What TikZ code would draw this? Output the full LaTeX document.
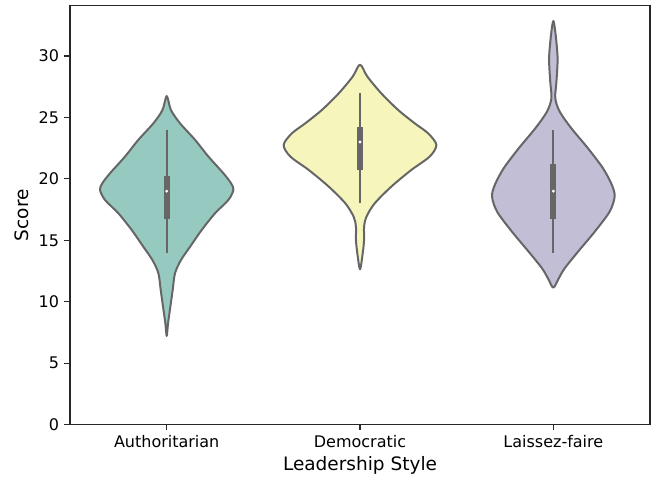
\documentclass[tikz,border=0pt]{standalone}
\usepackage{fontspec}
\setmainfont{DejaVu Sans}
\usepackage{xcolor}
\usepackage{tikz}
\usetikzlibrary{positioning}
\definecolor{setteal}{RGB}{150,202,193}
\definecolor{setyellow}{RGB}{246,246,188}
\definecolor{setlilac}{RGB}{193,190,214}
\definecolor{linegray}{RGB}{102,102,102}
\tikzset{
    violin/.style = {draw=linegray, line width=1pt, line join=round},
    whisk/.style = {linegray, line width=1pt},
    boxq/.style = {linegray, line width=3.1pt},
    frame/.style = {black!85, line width=0.6pt},
    tickl/.style = {black!85, line width=0.6pt},
    ticklab/.style = {font=\fontsize{8}{9.6}\selectfont, inner sep=0pt},
    axlab/.style = {font=\fontsize{9.25}{11}\selectfont, inner sep=0pt},
}

\begin{document}
\begin{tikzpicture}[x=96.667pt, y=6.145pt]
\useasboundingbox (-0.8623,-4.50) rectangle (2.531,34.556);
%
% Authoritarian
\draw[violin, fill=setteal] plot[smooth cycle, tension=0.5] coordinates {
  (0,26.74) (0.022,25.6) (0.069,24.52) (0.147,23.17) (0.216,21.81) (0.293,20.46)
  (0.333,19.64) (0.345,19.1) (0.319,18.28) (0.25,17.2) (0.181,15.84) (0.121,14.48)
  (0.074,13.4) (0.043,12.32) (0.031,10.96) (0.019,9.6) (0.007,8.25)
  (0,7.22)
  (-0.007,8.25) (-0.019,9.6) (-0.031,10.96) (-0.043,12.32) (-0.074,13.4)
  (-0.121,14.48) (-0.181,15.84) (-0.25,17.2) (-0.319,18.28) (-0.345,19.1)
  (-0.333,19.64) (-0.293,20.46) (-0.216,21.81) (-0.147,23.17) (-0.069,24.52)
  (-0.022,25.6)};
\draw[whisk] (0,14) -- (0,24);
\draw[boxq] (0,16.75) -- (0,20.25);
\fill[white] (0,19) circle (0.8pt);
%
% Democratic
\draw[violin, fill=setyellow] plot[smooth cycle, tension=0.5] coordinates {
  (1,29.29) (1.038,28.32) (1.110,26.96) (1.197,25.61) (1.283,24.52) (1.352,23.71)
  (1.395,22.76) (1.36,21.81) (1.265,20.72) (1.162,19.37) (1.076,18.01) (1.033,16.92)
  (1.021,16.11) (1.021,15.03) (1.014,13.95)
  (1,12.64)
  (0.986,13.95) (0.979,15.03) (0.979,16.11) (0.967,16.92) (0.924,18.01)
  (0.838,19.37) (0.735,20.72) (0.64,21.81) (0.605,22.76) (0.648,23.71)
  (0.717,24.52) (0.803,25.61) (0.890,26.96) (0.962,28.32)};
\draw[whisk] (1,18) -- (1,27);
\draw[boxq] (1,20.75) -- (1,24.25);
\fill[white] (1,23) circle (0.8pt);
%
% Laissez-faire
\draw[violin, fill=setlilac] plot[smooth cycle, tension=0.5] coordinates {
  (2,32.85) (2.012,31.71) (2.022,29.81) (2.016,27.91) (2.010,26.56) (2.033,25.47)
  (2.093,24.12) (2.179,22.49) (2.257,20.86) (2.303,19.5) (2.317,18.55) (2.291,17.33)
  (2.214,15.7) (2.128,14.08) (2.059,12.73) (2.028,11.91)
  (2,11.15)
  (1.972,11.91) (1.941,12.73) (1.872,14.08) (1.786,15.7) (1.709,17.33)
  (1.683,18.55) (1.697,19.5) (1.743,20.86) (1.821,22.49) (1.907,24.12)
  (1.967,25.47) (1.990,26.56) (1.984,27.91) (1.978,29.81) (1.988,31.71)};
\draw[whisk] (2,14) -- (2,24);
\draw[boxq] (2,16.75) -- (2,21.2);
\fill[white] (2,19) circle (0.8pt);
%
% axes
\draw[frame] (-0.5,0) rectangle (2.5,34.1);
\foreach \s in {0,5,...,30} {
  \draw[tickl] (-0.5,\s) -- ++(-2.8pt,0);
  \node[ticklab, anchor=east, xshift=-5.3pt] (y\s) at (-0.5,\s) {\s};
}
\foreach \i in {0,1,2}
  \draw[tickl] (\i,0) -- ++(0,-2.8pt);
\node[ticklab, anchor=base, yshift=-11.5pt] (auth) at (0,0) {Authoritarian};
\node[ticklab, anchor=base, yshift=-11.5pt] (demo) at (1,0) {Democratic};
\node[ticklab, anchor=base, yshift=-11.5pt] (laissez) at (2,0) {Laissez-faire};
\node[axlab, anchor=base, yshift=-22.9pt] (xlabel) at (1,0) {Leadership Style};
\node[axlab, anchor=base, rotate=90] (ylabel) at ([xshift=-20.75pt]-0.5,17.05) {Score};
\end{tikzpicture}
\end{document}
